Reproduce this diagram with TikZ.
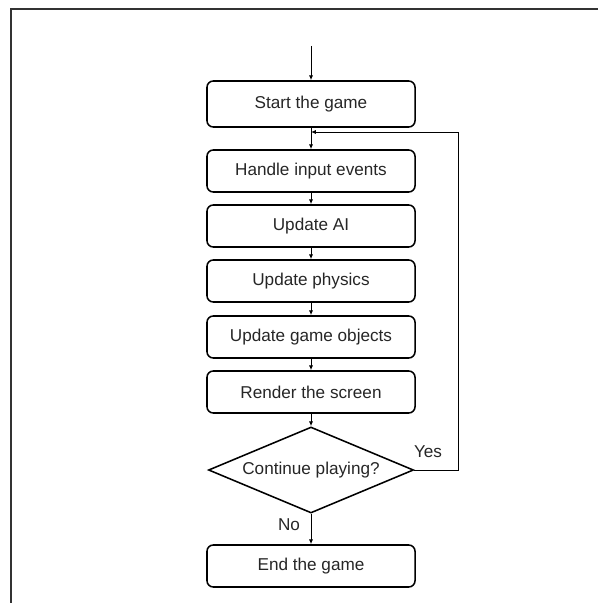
\documentclass[tikz,border=0pt]{standalone}
\usepackage{fontspec}
\setmainfont{Liberation Sans}
\usetikzlibrary{arrows.meta,shapes.geometric}
\tikzset{
  stage/.style={draw, line width=1.1pt, rounded corners=4.5pt, minimum width=5.2cm,
    minimum height=1.05cm, text=black!85, font=\fontsize{12.2}{14}\selectfont},
  choice/.style={draw, diamond, aspect=2.4, inner sep=1pt, line width=1.1pt,
    minimum width=5.125cm, minimum height=2.15cm, text=black!85, font=\fontsize{12.2}{14}\selectfont},
  note/.style={text=black!85, font=\fontsize{12.2}{14}\selectfont},
  flow/.style={line width=0.7pt, -{Latex[length=3.5pt,width=3pt]}}
}
\begin{document}
\begin{tikzpicture}[x=0.025cm, y=-0.025cm]
\useasboundingbox (0,0) rectangle (598,603);
\draw[line width=1pt, black!80] (11,603) -- (11,9) -- (598,9);

\coordinate (entry) at (311,46);
\coordinate (join) at (311,132);
\node[stage, minimum height=1.15cm] (start) at (311,104) {Start the game};
\node[stage] (input) at (311,171) {Handle input events};
\node[stage] (ai) at (311,226) {Update AI};
\node[stage] (physics) at (311,281) {Update physics};
\node[stage] (objects) at (311,337) {Update game objects};
\node[stage] (render) at (311,392) {Render the screen};
\node[choice] (more) at (311,470) {Continue playing?};
\node[stage] (finish) at (311,566) {End the game};
\node[note] (yes) at (428,452) {Yes};
\node[note] (no) at (289,525) {No};

\draw[flow] (entry) -- (start);
\draw[flow] (start) -- (input);
\draw[flow] (input) -- (ai);
\draw[flow] (ai) -- (physics);
\draw[flow] (physics) -- (objects);
\draw[flow] (objects) -- (render);
\draw[flow] (render) -- (more);
\draw[flow] (more) -- (finish);
\draw[flow] (more.east) -- ++(44,0) |- (join);
\end{tikzpicture}
\end{document}
